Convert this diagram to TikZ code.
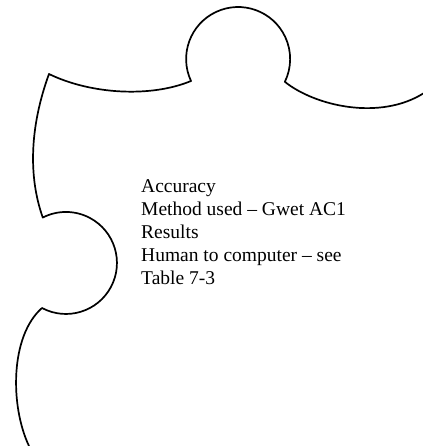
\documentclass[tikz,border=0pt]{standalone}
\usepackage{fontspec}
\setmainfont{Liberation Serif}
\begin{document}
\begin{tikzpicture}[x=1pt, y=1pt, piece/.style={line width=1.7pt, line join=round}]
\useasboundingbox (0,0) rectangle (422,446);
\draw[piece] (29,0) .. controls (10,40) and (10,110) .. (42,138) % lower left edge
  arc[start angle=-118, end angle=117, radius=51] % left knob
  .. controls (28,270) and (30,320) .. (49,372) % upper left edge
  .. controls (90,352) and (150,348) .. (191,365) % top edge
  arc[start angle=205, end angle=-26, radius=52] % top knob
  .. controls (315,340) and (380,325) .. (424,353); % right edge
\node[anchor=north west, inner sep=0pt, align=left, font=\fontsize{19.5}{23}\selectfont] (acc) at (141,267)
  {Accuracy\\Method used -- Gwet AC1\\Results\\Human to computer -- see\\Table 7-3};
\end{tikzpicture}
\end{document}
